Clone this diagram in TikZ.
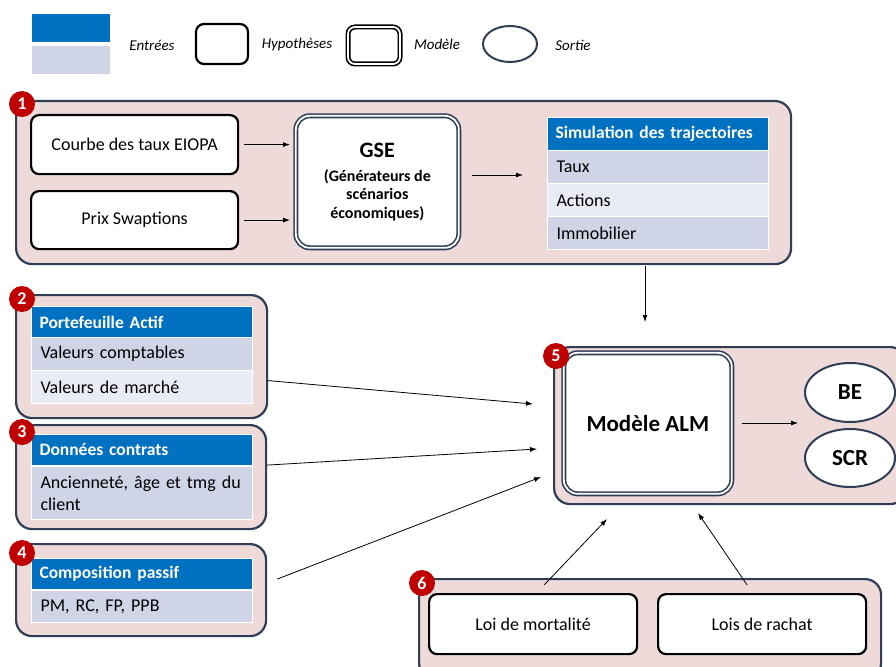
\documentclass[tikz,border=0pt]{standalone}
\usepackage{fontspec}
\setmainfont{Carlito}
\usetikzlibrary{positioning,arrows.meta,shapes.geometric}

\definecolor{panelfill}{HTML}{EFDADA}
\definecolor{paneldraw}{HTML}{2F3E55}
\definecolor{headblue}{HTML}{0070C0}
\definecolor{rowdark}{HTML}{CFD5E7}
\definecolor{rowlight}{HTML}{E9EBF5}
\definecolor{markred}{HTML}{C00000}
\hyphenpenalty=10000

\begin{document}
\begin{tikzpicture}[
  x=1pt,y=-1pt,
  panel/.style={draw=paneldraw,line width=2.2pt,fill=panelfill,rounded corners=16pt,anchor=north west,inner sep=0pt},
  marker/.style={circle,fill=markred,text=white,font=\bfseries\fontsize{18pt}{20pt}\selectfont,minimum size=26pt,inner sep=0pt},
  hyp/.style={draw=black,line width=2.2pt,rounded corners=8pt,fill=white,font=\fontsize{18pt}{21pt}\selectfont},
  model/.style={draw=paneldraw,line width=1.6pt,double=white,double distance=1.8pt,rounded corners=14pt,fill=white,align=center,font=\bfseries},
  sortie/.style={ellipse,draw=paneldraw,line width=2pt,fill=white,inner sep=0pt,font=\bfseries\fontsize{23pt}{26pt}\selectfont},
  head/.style={fill=headblue,draw=white,line width=1pt,text=white,anchor=north west,inner xsep=8pt,text width=205pt,align=left,minimum height=31pt,font=\bfseries\fontsize{17.5pt}{21pt}\selectfont},
  row/.style={draw=white,line width=1pt,anchor=north west,inner xsep=9pt,text width=203pt,align=left,minimum height=33pt,font=\fontsize{18pt}{22pt}\selectfont},
  legtxt/.style={font=\itshape\fontsize{15pt}{18pt}\selectfont},
  arr/.style={-{Latex[length=7pt,width=5pt]},line width=0.8pt}
]
\useasboundingbox (0,0) rectangle (896,666);

% legend
\node[fill=headblue,minimum width=78pt,minimum height=28pt,anchor=north west,inner sep=0pt] (lin1) at (32,14) {};
\node[fill=rowdark,minimum width=78pt,minimum height=28pt,anchor=north west,inner sep=0pt] (lin2) at (32,46) {};
\node[legtxt] (lentree) at (152,45) {Entrées};
\node[hyp,minimum width=52pt,minimum height=40pt] (lhyp) at (222,44) {};
\node[legtxt] (lhyptxt) at (297,45) {Hypothèses};
\node[model,draw=black,rounded corners=7pt,minimum width=52pt,minimum height=37pt] (lmod) at (374,45.5) {};
\node[legtxt] (lmodtxt) at (437,44) {Modèle};
\node[sortie,minimum width=54pt,minimum height=36pt] (lsort) at (510,44) {};
\node[legtxt] (lsorttxt) at (573,45) {Sortie};

% 1: GSE
\node[panel,minimum width=775pt,minimum height=163pt] (p1) at (15,100) {};
\node[hyp,minimum width=207pt,minimum height=59pt,anchor=north west] (courbe) at (30,114) {Courbe des taux EIOPA};
\node[hyp,minimum width=207pt,minimum height=58pt,anchor=north west] (prix) at (30,190) {Prix Swaptions};
\node[model,minimum width=163pt,minimum height=132pt,anchor=north west,font=\bfseries\fontsize{16pt}{18.5pt}\selectfont] (gse) at (295,115)
  {{\fontsize{22pt}{25pt}\selectfont GSE}\\[5pt]
   (Générateurs de\\scénarios\\économiques)};
\node[head,minimum height=33pt] (simhead) at (547,117) {Simulation des trajectoires};
\foreach \txt/\col [count=\i] in {Taux/rowdark,Actions/rowlight,Immobilier/rowdark}{
  \node[row,fill=\col] (sim\i) at (547,117+33*\i) {\txt};
}
\node[marker] (m1) at (22,104) {1};
\draw[arr,shorten <=5pt,shorten >=5pt] (courbe.east) -- (courbe.east -| gse.west);
\draw[arr,shorten <=5pt,shorten >=5pt] (prix.east) -- (prix.east -| gse.west);
\coordinate (simin) at (523,175);
\draw[arr] (gse.east |- simin) ++(12,0) -- (simin);

% 2: actif
\node[panel,minimum width=251pt,minimum height=123pt] (p2) at (15,294) {};
\node[head] (acthead) at (31,306) {Portefeuille Actif};
\foreach \txt/\col [count=\i] in {Valeurs comptables/rowdark,Valeurs de marché/rowlight}{
  \node[row,fill=\col] (act\i) at (31,304+33*\i) {\txt};
}
\node[marker] (m2) at (22,299) {2};

% 3: contrats
\node[panel,minimum width=250pt,minimum height=104pt] (p3) at (15,424) {};
\node[head] (conthead) at (31,434) {Données contrats};
\node[row,fill=rowdark,minimum height=53pt] (cont1) at (31,466) {Ancienneté, âge et tmg du client};
\node[marker] (m3) at (22,432) {3};

% 4: passif
\node[panel,minimum width=250pt,minimum height=92pt] (p4) at (15,543) {};
\node[head] (pashead) at (31,558) {Composition passif};
\node[row,fill=rowdark,minimum height=32pt] (pas1) at (31,590) {PM, RC, FP, PPB};
\node[marker] (m4) at (22,553) {4};

% 5: ALM
\node[panel,minimum width=352pt,minimum height=157pt] (p5) at (553,346) {};
\node[model,minimum width=168pt,minimum height=141pt,anchor=north west,font=\bfseries\fontsize{23pt}{27pt}\selectfont] (alm) at (563,352) {Modèle ALM};
\node[sortie,minimum width=90pt,minimum height=59pt] (be) at (850,392.5) {BE};
\node[sortie,minimum width=90pt,minimum height=58pt] (scr) at (850,458) {SCR};
\node[marker] (m5) at (556,356) {5};
\coordinate (outin) at (798,423);
\draw[arr,shorten <=9pt] (alm.east |- outin) -- (outin);

% 6: lois
\node[panel,minimum width=462pt,minimum height=100pt] (p6) at (418,578) {};
\node[hyp,minimum width=208pt,minimum height=60pt,anchor=north west] (mort) at (428,593) {Loi de mortalité};
\node[hyp,minimum width=208pt,minimum height=60pt,anchor=north west] (rachat) at (657,593) {Lois de rachat};
\node[marker] (m6) at (422,583) {6};

% flux vers le modèle
\coordinate (fromsim) at (645,322);
\coordinate (in2) at (533,404);
\coordinate (in3) at (537,449);
\coordinate (in4) at (541,477);
\coordinate (inmort) at (607,519);
\coordinate (inrachat) at (698,513);
\draw[arr,shorten <=1pt] (p1.south -| fromsim) -- (fromsim);
\draw[arr] ([yshift=-24pt]p2.east) -- (in2);
\draw[arr] ([yshift=12pt]p3.east) -- (in3);
\draw[arr] ([shift={(10pt,11pt)}]p4.east) -- (in4);
\draw[arr] ([shift={(11pt,8pt)}]mort.north) -- (inmort);
\draw[arr] ([shift={(-15pt,8pt)}]rachat.north) -- (inrachat);
\end{tikzpicture}
\end{document}
